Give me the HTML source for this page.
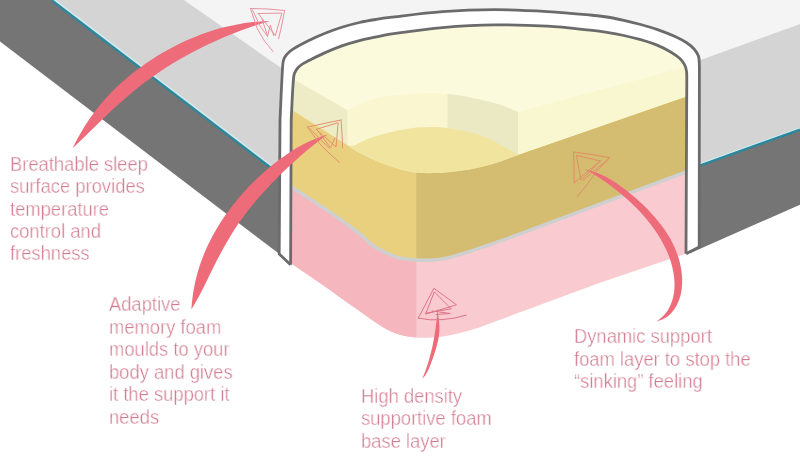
<!DOCTYPE html><html><head><meta charset="utf-8"><style>html,body{margin:0;padding:0;background:#fff;}body{width:800px;height:473px;position:relative;overflow:hidden}svg{position:absolute;left:0;top:0}
.t{position:absolute;font-family:"Liberation Sans",sans-serif;color:#d27a8f;-webkit-text-stroke:0.38px #fff;font-size:19.5px;line-height:22.35px;white-space:nowrap;transform:scaleX(0.942);transform-origin:0 0;will-change:transform}
</style></head><body><svg width="800" height="473" viewBox="0 0 800 473">
<defs><clipPath id="cin"><path d="M290.6,420 L290.6,264.8 L291.2,120 L291.2,120 C292,105.5 292.3,90.9 293.7,76.5 C293.9,74.2 295,71.9 296.2,70 C297.4,68.1 299.2,66.4 301,65 C303.4,63.2 306.1,62 308.8,60.6 C314.4,57.8 320,54.9 325.7,52.4 C331.2,49.9 336.9,47.6 342.6,45.6 C348.1,43.7 353.8,42.1 359.5,40.6 C365.1,39.1 370.7,38 376.4,36.8 C380.9,35.9 385.4,34.8 390,34.2 C407.5,31.8 424.9,29.2 442.5,27.6 C459.9,26.1 477.5,25.1 495,24.9 C512.5,24.7 530,25.2 547.5,26.2 C561.7,27 575.8,28.7 590,30.2 C595.6,30.8 601.3,31.5 606.9,32.4 C612.6,33.3 618.2,34.3 623.8,35.5 C629.5,36.7 635.1,38.1 640.7,39.7 C646.4,41.4 652.1,43.1 657.6,45.4 C662.2,47.3 666.8,49.7 671.1,52.2 C674.1,54 677.1,56 679.6,58.3 C681.5,60 683.2,62.2 684.4,64.4 C685.5,66.4 686.2,68.7 686.5,71 C687,73.9 686.7,77 686.8,80 L686,253.8 L686,420 Z"/></clipPath></defs>
<path fill="#f4f4f5" d="M184,0 L800,0 L800,24.1 L690,63.7 L290,74.1 Z"/>
<path fill="#d4d4d4" d="M52,0 L184,0 L290,74.1 L290,182 Z"/>
<path fill="#d4d4d4" d="M690,63.7 L800,24.1 L800,129.7 L690,169.1 Z"/>
<path fill="#757575" d="M0,0 L52,0 L290,182 L290,262 L0,41.6 Z"/>
<path fill="#757575" d="M690,169.1 L800,129.7 L800,204.7 L690,253.3 Z"/>
<path fill="none" stroke="#cdeff4" stroke-width="1.3" d="M53,-1.5 L291,180.5"/>
<path fill="none" stroke="#2a879c" stroke-width="2.4" d="M51.7,0.3 L289.7,182.3"/>
<path fill="none" stroke="#cdeff4" stroke-width="1.3" d="M690,167.4 L800,128"/>
<path fill="none" stroke="#2a879c" stroke-width="2.4" d="M690,169.1 L800,129.7"/>
<path fill="#ffffff" stroke="#6b6b6b" stroke-width="2.8" stroke-linejoin="round" d="M290.6,264.8 L279.2,254 L280,120 L280,120 C280.8,103.3 281.4,86.7 282.4,70 C282.6,66.8 282.6,63.5 283.4,60.5 C283.9,58.6 285,56.7 286.2,55.2 C287.8,53.2 289.7,51.3 291.9,49.9 C297.3,46.4 303.1,43.5 308.8,40.6 C314.3,37.8 320,35.3 325.7,33 C331.2,30.8 336.9,28.8 342.6,27 C348.2,25.3 353.8,23.8 359.5,22.5 C365.1,21.2 370.8,20.3 376.4,19.4 C380.9,18.6 385.4,17.9 390,17.4 C407.5,15.3 425,12.9 442.5,11.6 C460,10.3 477.5,9.7 495,9.7 C512.5,9.7 530,10.6 547.5,11.6 C561.7,12.4 575.8,13.7 590,15 C595.6,15.5 601.3,16.1 606.9,17 C612.6,17.9 618.2,19.1 623.8,20.3 C629.5,21.6 635.1,23 640.7,24.5 C646.4,26.1 652,27.7 657.6,29.6 C663.3,31.6 669,33.8 674.5,36.3 C678.5,38.1 682.6,40.1 686.3,42.5 C689.2,44.4 692,46.6 694.3,49.2 C696.1,51.3 697.8,53.9 698.6,56.5 C699.5,59.5 699.1,62.8 699.4,66 L699.2,247 L686,253.8"/>
<g clip-path="url(#cin)">
<rect x="270" y="0" width="440" height="200" fill="#fbfadc"/>
<path fill="#edecc7" d="M270,65.8 L347.7,110.3 L347.7,146 L270,96.1 Z"/>
<path fill="#f9f6d0" d="M347.7,110.3 C351.8,108.2 355.8,105.9 360,104 C363.8,102.3 367.7,100.7 371.7,99.5 C376,98.2 380.5,97.2 385,96.5 C391,95.5 397,94.9 403,94.4 C410.3,93.8 417.7,93.5 425,93.4 C432.5,93.3 440.1,93.2 447.5,94 C456.7,94.9 465.9,96.6 475,98.5 C483.4,100.2 491.8,102.2 500,104.8 C506.2,106.8 512.2,109.6 518.3,112.1 L518.3,157 L347.7,147 Z"/>
<clipPath id="nf2"><rect x="447.5" y="0" width="70.8" height="473"/></clipPath>
<path fill="#ebe9c3" clip-path="url(#nf2)" d="M347.7,110.3 C351.8,108.2 355.8,105.9 360,104 C363.8,102.3 367.7,100.7 371.7,99.5 C376,98.2 380.5,97.2 385,96.5 C391,95.5 397,94.9 403,94.4 C410.3,93.8 417.7,93.5 425,93.4 C432.5,93.3 440.1,93.2 447.5,94 C456.7,94.9 465.9,96.6 475,98.5 C483.4,100.2 491.8,102.2 500,104.8 C506.2,106.8 512.2,109.6 518.3,112.1 L518.3,157 L347.7,147 Z"/>
<path fill="#f9f7cf" d="M518.3,112.1 L710,60.3 L710,88.5 L518.3,154.8 Z"/>
<path fill="#e9d07f" d="M270,96.1 L347.9,145.5 L347.9,145.5 C350.4,147.2 352.8,149.1 355.4,150.6 C359.5,152.9 363.8,154.9 368,157 C372,158.9 375.9,160.9 380,162.5 C386.2,164.8 392.4,167 398.8,168.7 C404.6,170.3 410.6,171.8 416.6,172.5 C423.1,173.3 429.7,173.3 436.3,173.1 C442.5,173 448.8,172.3 455,171.6 C461.3,170.9 467.6,170 473.8,168.8 C480.1,167.5 486.4,166 492.5,164.1 C498.9,162.2 505,159.7 511.3,157.5 C513.6,156.7 516,155.8 518.3,155 L710,88.5 L710,163 L520,233.8 L520,233.9 C511.7,236.9 503.4,239.9 495,242.8 C486.7,245.7 478.4,248.7 470,251.3 C461.7,253.9 453.4,256.6 445,258.5 C440.1,259.6 435,259.9 430,260.2 C425.3,260.4 420.7,260.3 416,260 C411.4,259.7 406.8,259.4 402.3,258.5 C398.7,257.8 395.1,256.7 391.7,255.4 C388.1,254 384.5,252.2 381.1,250.3 C377.5,248.3 373.8,246.3 370.6,243.8 C366.8,240.9 363.8,237 360,234 C350.3,226.4 340.2,219.2 330,212.2 C317.7,203.7 305.1,195.5 292.4,187.7 C285.1,183.2 277.5,179.4 270,175.2 Z"/>
<clipPath id="l2f"><rect x="416.3" y="0" width="400" height="473"/></clipPath>
<path fill="#d4bd70" clip-path="url(#l2f)" d="M270,96.1 L347.9,145.5 L347.9,145.5 C350.4,147.2 352.8,149.1 355.4,150.6 C359.5,152.9 363.8,154.9 368,157 C372,158.9 375.9,160.9 380,162.5 C386.2,164.8 392.4,167 398.8,168.7 C404.6,170.3 410.6,171.8 416.6,172.5 C423.1,173.3 429.7,173.3 436.3,173.1 C442.5,173 448.8,172.3 455,171.6 C461.3,170.9 467.6,170 473.8,168.8 C480.1,167.5 486.4,166 492.5,164.1 C498.9,162.2 505,159.7 511.3,157.5 C513.6,156.7 516,155.8 518.3,155 L710,88.5 L710,163 L520,233.8 L520,233.9 C511.7,236.9 503.4,239.9 495,242.8 C486.7,245.7 478.4,248.7 470,251.3 C461.7,253.9 453.4,256.6 445,258.5 C440.1,259.6 435,259.9 430,260.2 C425.3,260.4 420.7,260.3 416,260 C411.4,259.7 406.8,259.4 402.3,258.5 C398.7,257.8 395.1,256.7 391.7,255.4 C388.1,254 384.5,252.2 381.1,250.3 C377.5,248.3 373.8,246.3 370.6,243.8 C366.8,240.9 363.8,237 360,234 C350.3,226.4 340.2,219.2 330,212.2 C317.7,203.7 305.1,195.5 292.4,187.7 C285.1,183.2 277.5,179.4 270,175.2 Z"/>
<path fill="#f1e49f" d="M347.9,145.5 C349.5,145.7 351.3,146.4 352.8,146 C355.9,145.2 358.7,143 361.7,141.7 C365.9,139.9 370.1,138.2 374.4,136.6 C376.2,135.9 378.1,135.5 380,135 C386.3,133.4 392.5,131.6 398.8,130.3 C405,129.1 411.2,128 417.5,127.5 C423.7,127 430.1,126.8 436.3,127.1 C442.6,127.4 448.8,128.4 455,129.4 C461.3,130.4 467.7,131.3 473.8,133.1 C480.2,135 486.4,137.7 492.5,140.6 C498.9,143.7 505,147.5 511.3,150.9 C513.6,152.2 516,153.5 518.3,154.8 L518.3,155 C516,155.8 513.6,156.7 511.3,157.5 C505,159.7 498.9,162.2 492.5,164.1 C486.4,166 480.1,167.5 473.8,168.8 C467.6,170 461.3,170.9 455,171.6 C448.8,172.3 442.5,173 436.3,173.1 C429.7,173.3 423.1,173.3 416.6,172.5 C410.6,171.8 404.6,170.3 398.8,168.7 C392.4,167 386.2,164.8 380,162.5 C375.9,160.9 372,158.9 368,157 C363.8,154.9 359.5,152.9 355.4,150.6 C352.8,149.1 350.4,147.2 347.9,145.5 Z"/>
<path fill="#f9cbd0" d="M270,175.2 C277.5,179.4 285.1,183.2 292.4,187.7 C305.1,195.5 317.7,203.7 330,212.2 C340.2,219.2 350.3,226.4 360,234 C363.8,237 366.8,240.9 370.6,243.8 C373.8,246.3 377.5,248.3 381.1,250.3 C384.5,252.2 388.1,254 391.7,255.4 C395.1,256.7 398.7,257.8 402.3,258.5 C406.8,259.4 411.4,259.7 416,260 C420.7,260.3 425.3,260.4 430,260.2 C435,259.9 440.1,259.6 445,258.5 C453.4,256.6 461.7,253.9 470,251.3 C478.4,248.7 486.7,245.7 495,242.8 C503.4,239.9 511.7,236.9 520,233.9 L710,163 L710,245 L686,253.6 L600,282.8 L520,312.2 L520,312.2 C513.3,314.7 506.7,317.3 500,319.8 C493.3,322.3 486.7,324.9 480,327.2 C474.1,329.2 468.1,331 462,332.6 C456.4,334 450.7,335.3 445,336.2 C440.7,336.9 436.3,337.3 432,337.5 C426.8,337.8 421.5,338 416.3,337.6 C410.8,337.1 405.3,336.2 400,334.8 C395.7,333.6 391.5,331.8 387.5,329.8 C383.1,327.5 379.1,324.6 375,321.9 C370.8,319.1 366.7,316.1 362.5,313.2 C358.3,310.3 354.1,307.5 350,304.6 C346.7,302.3 343.5,299.9 340.2,297.6 C333.5,292.8 326.9,288 320.2,283.3 C310.5,276.5 300.8,269.7 291,263.2 C284.1,258.6 277,254.4 270,250 Z"/>
<clipPath id="pl"><rect x="0" y="0" width="416.3" height="473"/></clipPath>
<path fill="#f6b6bd" clip-path="url(#pl)" d="M270,175.2 C277.5,179.4 285.1,183.2 292.4,187.7 C305.1,195.5 317.7,203.7 330,212.2 C340.2,219.2 350.3,226.4 360,234 C363.8,237 366.8,240.9 370.6,243.8 C373.8,246.3 377.5,248.3 381.1,250.3 C384.5,252.2 388.1,254 391.7,255.4 C395.1,256.7 398.7,257.8 402.3,258.5 C406.8,259.4 411.4,259.7 416,260 C420.7,260.3 425.3,260.4 430,260.2 C435,259.9 440.1,259.6 445,258.5 C453.4,256.6 461.7,253.9 470,251.3 C478.4,248.7 486.7,245.7 495,242.8 C503.4,239.9 511.7,236.9 520,233.9 L710,163 L710,245 L686,253.6 L600,282.8 L520,312.2 L520,312.2 C513.3,314.7 506.7,317.3 500,319.8 C493.3,322.3 486.7,324.9 480,327.2 C474.1,329.2 468.1,331 462,332.6 C456.4,334 450.7,335.3 445,336.2 C440.7,336.9 436.3,337.3 432,337.5 C426.8,337.8 421.5,338 416.3,337.6 C410.8,337.1 405.3,336.2 400,334.8 C395.7,333.6 391.5,331.8 387.5,329.8 C383.1,327.5 379.1,324.6 375,321.9 C370.8,319.1 366.7,316.1 362.5,313.2 C358.3,310.3 354.1,307.5 350,304.6 C346.7,302.3 343.5,299.9 340.2,297.6 C333.5,292.8 326.9,288 320.2,283.3 C310.5,276.5 300.8,269.7 291,263.2 C284.1,258.6 277,254.4 270,250 Z"/>
<path fill="none" stroke="#cfcfcf" stroke-width="3.5" d="M270,175.2 C277.5,179.4 285.1,183.2 292.4,187.7 C305.1,195.5 317.7,203.7 330,212.2 C340.2,219.2 350.3,226.4 360,234 C363.8,237 366.8,240.9 370.6,243.8 C373.8,246.3 377.5,248.3 381.1,250.3 C384.5,252.2 388.1,254 391.7,255.4 C395.1,256.7 398.7,257.8 402.3,258.5 C406.8,259.4 411.4,259.7 416,260 C420.7,260.3 425.3,260.4 430,260.2 C435,259.9 440.1,259.6 445,258.5 C453.4,256.6 461.7,253.9 470,251.3 C478.4,248.7 486.7,245.7 495,242.8 C503.4,239.9 511.7,236.9 520,233.9 L710,163"/>
</g>
<path fill="none" stroke="#6b6b6b" stroke-width="2.8" stroke-linejoin="round" d="M290.6,264.8 L291.2,120 L291.2,120 C292,105.5 292.3,90.9 293.7,76.5 C293.9,74.2 295,71.9 296.2,70 C297.4,68.1 299.2,66.4 301,65 C303.4,63.2 306.1,62 308.8,60.6 C314.4,57.8 320,54.9 325.7,52.4 C331.2,49.9 336.9,47.6 342.6,45.6 C348.1,43.7 353.8,42.1 359.5,40.6 C365.1,39.1 370.7,38 376.4,36.8 C380.9,35.9 385.4,34.8 390,34.2 C407.5,31.8 424.9,29.2 442.5,27.6 C459.9,26.1 477.5,25.1 495,24.9 C512.5,24.7 530,25.2 547.5,26.2 C561.7,27 575.8,28.7 590,30.2 C595.6,30.8 601.3,31.5 606.9,32.4 C612.6,33.3 618.2,34.3 623.8,35.5 C629.5,36.7 635.1,38.1 640.7,39.7 C646.4,41.4 652.1,43.1 657.6,45.4 C662.2,47.3 666.8,49.7 671.1,52.2 C674.1,54 677.1,56 679.6,58.3 C681.5,60 683.2,62.2 684.4,64.4 C685.5,66.4 686.2,68.7 686.5,71 C687,73.9 686.7,77 686.8,80 L686,253.8"/>
<path fill="#ee6b7a" d="M72.6,148.3 L75.4,142.6 L78.4,137 L81.6,131.4 L84.8,126 L88.3,120.7 L91.9,115.6 L95.7,110.5 L99.6,105.6 L103.7,100.8 L107.9,96.1 L112.2,91.5 L116.7,87.1 L121.3,82.8 L126.1,78.7 L130.9,74.6 L135.9,70.7 L141,66.9 L146.1,63.2 L151.4,59.7 L156.7,56.3 L162.1,53 L167.6,49.9 L173.2,46.9 L178.9,44 L184.6,41.3 L190.4,38.8 L196.2,36.4 L202.1,34.1 L208.1,32 L214.1,30.1 L220.1,28.3 L226.2,26.8 L232.4,25.4 L238.5,24.2 L244.8,23.1 L251,22.3 L257.3,21.7 L263.6,21.2 L270,21 L270,21 L264,22.7 L258.1,24.5 L252.3,26.4 L246.6,28.4 L240.8,30.5 L235.2,32.7 L229.5,34.9 L223.9,37.3 L218.4,39.7 L212.8,42.2 L207.3,44.8 L201.8,47.5 L196.4,50.3 L191,53.1 L185.6,56 L180.3,59 L175,62.1 L169.8,65.3 L164.6,68.6 L159.5,71.9 L154.5,75.4 L149.5,78.9 L144.6,82.5 L139.7,86.2 L135,90 L130.3,93.9 L125.6,97.9 L121.1,101.9 L116.6,106 L112.1,110.1 L107.7,114.3 L103.3,118.5 L98.9,122.7 L94.6,127 L90.2,131.3 L85.9,135.5 L81.5,139.8 L77.1,144.1 L72.6,148.3 Z"/><path fill="#ee6b7a" d="M191.4,309.5 L191.8,303.6 L192.5,297.7 L193.3,291.8 L194.4,285.9 L195.7,280 L197.2,274.1 L198.9,268.3 L200.8,262.6 L202.9,256.9 L205.2,251.3 L207.6,245.8 L210.3,240.4 L213,235.1 L216,229.9 L219.1,224.8 L222.3,219.7 L225.7,214.8 L229.2,209.9 L232.8,205.2 L236.6,200.5 L240.4,196 L244.4,191.5 L248.5,187.1 L252.7,182.8 L257,178.6 L261.4,174.5 L265.9,170.5 L270.5,166.6 L275.2,162.8 L279.9,159.2 L284.8,155.7 L289.8,152.3 L294.9,149.1 L300.1,146.1 L305.4,143.3 L310.7,140.7 L316.2,138.4 L321.8,136.3 L327.5,134.6 L327.5,134.6 L322.8,137.9 L318.2,141.4 L313.7,144.9 L309.2,148.6 L304.8,152.3 L300.4,156.1 L296.1,159.9 L291.8,163.8 L287.5,167.8 L283.3,171.7 L279.2,175.8 L275.1,179.9 L271.1,184 L267.2,188.2 L263.3,192.4 L259.5,196.6 L255.8,201 L252.1,205.4 L248.6,209.8 L245.1,214.3 L241.8,218.9 L238.5,223.6 L235.3,228.3 L232.3,233.1 L229.3,238 L226.4,242.9 L223.5,247.9 L220.8,253 L218.1,258.1 L215.4,263.3 L212.8,268.5 L210.2,273.7 L207.7,278.9 L205.1,284.2 L202.5,289.4 L199.9,294.5 L197.1,299.6 L194.3,304.6 L191.4,309.5 Z"/><path fill="#ee6b7a" d="M422.2,378.9 L423,377.1 L423.7,375.3 L424.4,373.5 L425.1,371.7 L425.8,369.8 L426.4,368 L427,366.2 L427.6,364.3 L428.2,362.5 L428.8,360.6 L429.3,358.8 L429.8,356.9 L430.3,355 L430.8,353.1 L431.3,351.2 L431.7,349.3 L432.2,347.4 L432.6,345.5 L433,343.6 L433.3,341.7 L433.7,339.8 L434.1,337.9 L434.4,336 L434.7,334.1 L435,332.2 L435.3,330.2 L435.6,328.3 L435.8,326.4 L436.1,324.5 L436.3,322.5 L436.5,320.6 L436.7,318.7 L436.9,316.8 L437,314.8 L437.2,312.9 L437.3,311 L437.3,309 L437.4,307.1 L437.4,305.1 L437.4,305.1 L437.4,307.1 L437.5,309 L437.7,311 L437.9,313 L438.2,315 L438.5,317 L438.8,318.9 L439,320.9 L439.2,322.9 L439.3,324.9 L439.4,326.9 L439.4,328.8 L439.4,330.8 L439.2,332.8 L439,334.7 L438.8,336.7 L438.4,338.6 L438.1,340.6 L437.6,342.5 L437.1,344.5 L436.6,346.4 L436.1,348.3 L435.5,350.2 L434.9,352.2 L434.3,354.1 L433.6,356 L433,357.9 L432.3,359.7 L431.6,361.6 L431,363.4 L430.3,365.3 L429.5,367.1 L428.8,368.9 L427.9,370.6 L427,372.4 L426,374.1 L424.9,375.7 L423.6,377.3 L422.2,378.9 Z"/><path fill="#ee6b7a" d="M584.5,169.2 L589.8,170.4 L594.9,172 L599.8,174 L604.7,176.3 L609.4,178.8 L613.9,181.6 L618.4,184.6 L622.8,187.7 L627.1,191 L631.3,194.4 L635.4,197.8 L639.4,201.4 L643.3,205.1 L647.1,208.8 L650.8,212.7 L654.4,216.7 L657.8,220.8 L661.1,224.9 L664.3,229.3 L667.2,233.7 L670,238.3 L672.5,243 L674.8,247.9 L676.8,252.9 L678.6,258 L680,263.2 L681.1,268.5 L681.8,273.9 L682.2,279.3 L682.1,284.7 L681.6,290.1 L680.6,295.3 L679,300.3 L676.9,305.1 L674.2,309.5 L670.9,313.5 L666.9,316.9 L662.2,319.6 L656.7,321.4 L656.7,321.4 L661,318.1 L664.7,314.4 L667.7,310.4 L670.1,306.1 L671.9,301.5 L673.2,296.9 L674.1,292.1 L674.5,287.2 L674.5,282.3 L674.1,277.3 L673.4,272.4 L672.4,267.5 L671.1,262.6 L669.5,257.8 L667.7,253.1 L665.6,248.5 L663.3,244 L660.9,239.6 L658.3,235.3 L655.5,231.1 L652.6,227 L649.6,223 L646.4,219.1 L643.2,215.3 L639.8,211.6 L636.4,208 L632.8,204.5 L629.2,201.1 L625.5,197.8 L621.7,194.5 L617.9,191.4 L614,188.3 L610,185.3 L606,182.3 L601.8,179.5 L597.6,176.8 L593.3,174.1 L589,171.6 L584.5,169.2 Z"/><g fill="none" stroke="#e8939f" stroke-width="1.0" stroke-opacity="1.0" stroke-linecap="round" stroke-linejoin="round"><path d="M250.5,8.5 L268,9 L284.6,10.5"/><path d="M284.6,10.5 L282,24 L278.6,38.8"/><path d="M250.5,8.5 L257.1,28.3 L264.8,41.5 L273.1,51.4"/><path d="M252.5,10 L260,26 L267.6,36.5"/><path d="M258.2,13.5 L281.9,13.1 L275.3,35.5 L258.2,13.5"/><path d="M262,19 L267.6,36 L270.3,25 L273.6,35.5"/></g><g fill="none" stroke="#e39270" stroke-width="1.0" stroke-opacity="1.0" stroke-linecap="round" stroke-linejoin="round"><path d="M307.4,127.1 L324,123.5 L341,120"/><path d="M341,120 L342,134 L342.6,148"/><path d="M307.4,127.1 L319.5,143.6 L330,154 L339.3,162.3"/><path d="M309.6,128.2 L320,139 L329.4,148"/><path d="M316.2,129.3 L338.2,122.7 L336,146.9 L316.2,129.3"/><path d="M318,131 L330.5,148 L334.9,138.1"/></g><g fill="none" stroke="#de7488" stroke-width="1.0" stroke-opacity="1.0" stroke-linecap="round" stroke-linejoin="round"><path d="M418.3,318.1 L433.9,288.3 L456.5,304.8 L426,314"/><path d="M425.9,313.2 L434.3,291.9 L451.2,308.8 L425.9,313.2"/><path d="M418.3,318.1 L430,319.8 L442,319.6 L455,318 L466.3,315"/><path d="M432,311 L450.3,313.5 L436,314.5"/></g><g fill="none" stroke="#e08f66" stroke-width="1.0" stroke-opacity="1.0" stroke-linecap="round" stroke-linejoin="round"><path d="M573.6,152 L592,154.5 L609.5,157.7"/><path d="M573.6,152 L574,167 L574.2,182.9"/><path d="M609.5,157.7 L596,172 L586,186 L577.5,196.4"/><path d="M576.4,155.4 L600.5,161 L580.9,180.1 L576.4,155.4"/><path d="M608.4,159.3 L595,170 L582.6,180.7"/><path d="M574.2,182.9 L588,171 L600.5,161"/></g>
</svg><div class="t" style="left:10.4px;top:152.7px;line-height:22.35px">Breathable sleep<br>surface provides<br>temperature<br>control and<br>freshness</div><div class="t" style="left:109.2px;top:293.2px;line-height:22.55px">Adaptive<br>memory foam<br>moulds to your<br>body and gives<br>it the support it<br>needs</div><div class="t" style="left:361px;top:384.9px;line-height:22.25px">High density<br>supportive foam<br>base layer</div><div class="t" style="left:573.8px;top:325px;line-height:22.5px">Dynamic support<br>foam layer to stop the<br>“sinking” feeling</div></body></html>
